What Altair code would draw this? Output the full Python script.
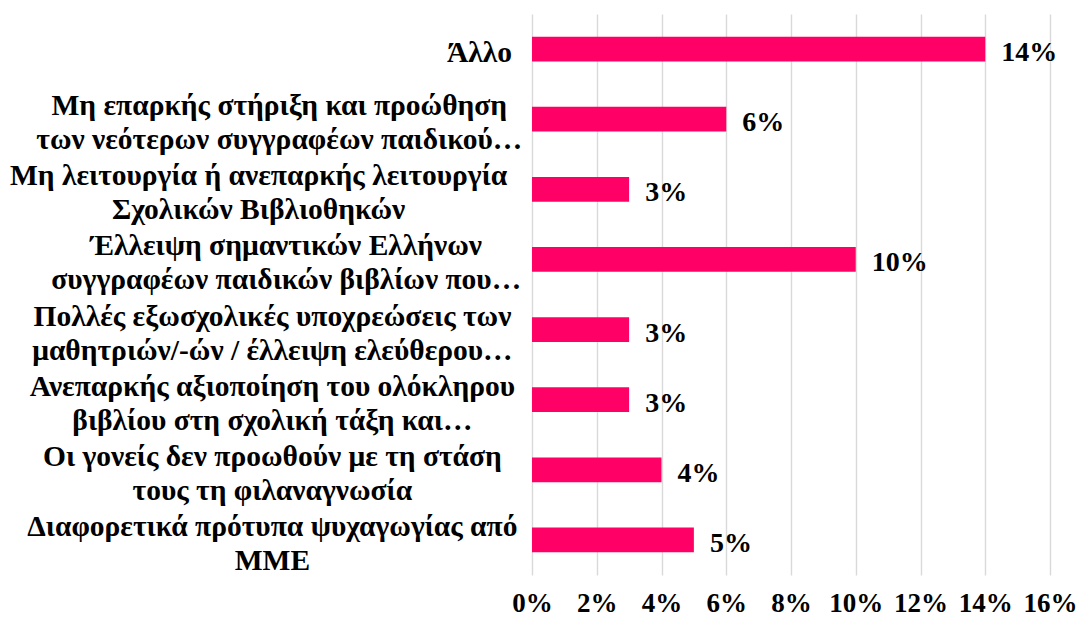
import altair as alt
import pandas as pd

categories = [
    "Άλλο",
    "Μη επαρκής στήριξη και προώθηση\nτων νεότερων συγγραφέων παιδικού…",
    "Μη λειτουργία ή ανεπαρκής λειτουργία\nΣχολικών Βιβλιοθηκών",
    "Έλλειψη σημαντικών Ελλήνων\nσυγγραφέων παιδικών βιβλίων που…",
    "Πολλές εξωσχολικές υποχρεώσεις των\nμαθητριών/-ών / έλλειψη ελεύθερου…",
    "Ανεπαρκής αξιοποίηση του ολόκληρου\nβιβλίου στη σχολική τάξη και…",
    "Οι γονείς δεν προωθούν με τη στάση\nτους τη φιλαναγνωσία",
    "Διαφορετικά πρότυπα ψυχαγωγίας από\nΜΜΕ",
]
values = [0.14, 0.06, 0.03, 0.10, 0.03, 0.03, 0.04, 0.05]
x_ticks = [0, 0.02, 0.04, 0.06, 0.08, 0.10, 0.12, 0.14, 0.16]

df = pd.DataFrame({"cat": categories, "val": values})

FONT = "Liberation Serif, Times New Roman, serif"
COLOR = "#FF0066"
CAT_SIZE = 29.5
LINE_GAP = 17
SHIFT = 4

y_enc = alt.Y(
    "cat:N",
    sort=categories,
    scale=alt.Scale(paddingInner=0.647, paddingOuter=0.323),
    axis=alt.Axis(labels=False, ticks=False, domain=False, grid=False, title=None),
)

base = alt.Chart(df)

bars = base.mark_bar(color=COLOR).encode(
    x=alt.X(
        "val:Q",
        scale=alt.Scale(domain=[0, 0.16], nice=False),
        axis=alt.Axis(
            values=x_ticks,
            format=".0%",
            title=None,
            domain=False,
            ticks=False,
            grid=True,
            gridColor="#D9D9D9",
            gridWidth=1.4,
            labelFont=FONT,
            labelFontSize=27,
            labelFontWeight="bold",
            labelColor="black",
            labelPadding=15,
            labelOverlap=False,
            labelBound=False,
            labelFlush=False,
        ),
    ),
    y=y_enc,
)

value_labels = base.mark_text(
    align="left", baseline="middle", dx=16, dy=SHIFT, font=FONT, fontSize=28,
    fontWeight="bold", color="black",
).encode(
    x="val:Q",
    y=y_enc,
    text=alt.Text("val:Q", format=".0%"),
)

lab = base.transform_calculate(
    lines="split(datum.cat, '\\n')"
).transform_calculate(
    nlines="length(datum.lines)",
    l1="datum.lines[0]",
    l2="length(datum.lines) > 1 ? datum.lines[1] : ''",
).transform_calculate(
    maxlen="max(length(datum.l1), length(datum.l2))"
).transform_calculate(
    cx="-25 - datum.maxlen * 6.9"
)

def label_layer(field, cond, dy):
    return lab.transform_filter(cond).mark_text(
        align="center", baseline="middle", font=FONT, fontSize=CAT_SIZE,
        fontWeight="bold", color="black", dy=dy + SHIFT,
    ).encode(
        x=alt.X("cx:Q", scale=None),
        y=y_enc,
        text=alt.Text(f"{field}:N"),
    )

single = label_layer("l1", "datum.nlines == 1", 0)
first = label_layer("l1", "datum.nlines > 1", -LINE_GAP)
second = label_layer("l2", "datum.nlines > 1", LINE_GAP)

chart = alt.layer(bars, value_labels, single, first, second).properties(
    width=518,
    height=561,
    autosize=alt.AutoSizeParams(type="none"),
    padding={"left": 524, "top": 6, "right": 26, "bottom": 42},
).configure_view(stroke=None)

chart.save("out.html", embed_options={"renderer": "svg", "actions": False})
